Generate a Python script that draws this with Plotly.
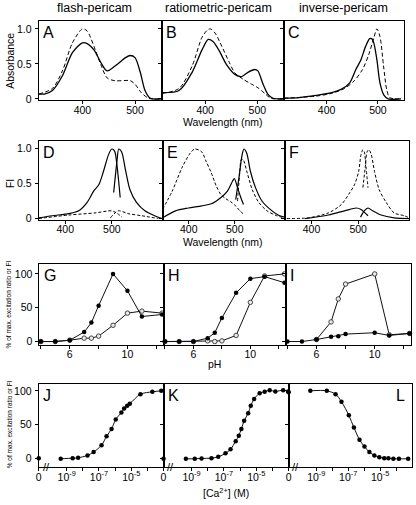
import plotly.graph_objects as go

W, H = 416, 505
FONT = "Liberation Sans, Arial, Helvetica, sans-serif"

# ---------------- Row 1: absorbance spectra (nm, absorbance) ----------------
A_solid_nm = [317, 328, 343, 362, 381, 400, 409, 422, 435, 447, 462, 482, 491, 500, 510, 519, 529, 551]
A_solid_abs = [0.07, 0.07, 0.12, 0.33, 0.66, 0.80, 0.79, 0.70, 0.52, 0.40, 0.47, 0.59, 0.62, 0.59, 0.38, 0.12, 0.01, 0.0]
A_dash_nm = [317, 343, 362, 381, 400, 409, 422, 435, 447, 462, 491, 500, 512, 526, 551]
A_dash_abs = [0.07, 0.15, 0.40, 0.80, 1.0, 0.97, 0.75, 0.49, 0.30, 0.26, 0.26, 0.21, 0.09, 0.01, 0.0]

B_solid_nm = [318, 350, 375, 394, 406, 415, 426, 441, 457, 470, 482, 495, 501, 511, 520, 530, 551]
B_solid_abs = [0.09, 0.12, 0.38, 0.70, 0.85, 0.82, 0.70, 0.49, 0.35, 0.32, 0.38, 0.42, 0.40, 0.21, 0.07, 0.01, 0.0]
B_dash_nm = [318, 350, 375, 394, 404, 410, 419, 432, 445, 457, 473, 489, 501, 514, 526, 551]
B_dash_abs = [0.08, 0.15, 0.47, 0.88, 0.98, 1.0, 0.94, 0.75, 0.54, 0.37, 0.28, 0.21, 0.16, 0.08, 0.01, 0.0]

C_solid_nm = [317, 347, 379, 410, 429, 445, 457, 467, 476, 484, 488, 492, 498, 504, 512, 520, 545]
C_solid_abs = [0.01, 0.02, 0.05, 0.09, 0.14, 0.23, 0.42, 0.56, 0.75, 0.86, 0.86, 0.80, 0.56, 0.23, 0.05, 0.0, 0.0]
C_dash_nm = [317, 379, 410, 435, 454, 470, 482, 492, 498, 504, 511, 517, 523, 545]
C_dash_abs = [0.01, 0.04, 0.08, 0.15, 0.26, 0.42, 0.63, 0.87, 1.0, 0.89, 0.47, 0.14, 0.02, 0.0]

# ---------------- Row 2: fluorescence spectra (nm, FI) ----------------
D_ex_solid_nm = [343, 372, 408, 429, 447, 461, 472, 482, 493, 500, 506, 511, 518]
D_ex_solid_fi = [0.01, 0.04, 0.07, 0.11, 0.23, 0.39, 0.48, 0.67, 0.91, 0.99, 0.96, 0.76, 0.30]
D_em_solid_nm = [504, 511, 515, 521, 530, 539, 553, 571, 592, 608]
D_em_solid_fi = [0.37, 0.81, 0.99, 0.95, 0.67, 0.41, 0.23, 0.11, 0.04, 0.0]
D_ex_dash_nm = [343, 408, 464, 500, 510, 522]
D_ex_dash_fi = [0.0, 0.05, 0.08, 0.11, 0.08, 0.02]
D_em_dash_nm = [497, 514, 535, 564, 600]
D_em_dash_fi = [0.01, 0.11, 0.07, 0.04, 0.0]

E_ex_dash_nm = [343, 364, 385, 403, 413, 428, 438, 449, 460, 470, 481, 491, 502, 511, 518]
E_ex_dash_fi = [0.13, 0.39, 0.72, 0.93, 0.99, 0.95, 0.81, 0.65, 0.46, 0.34, 0.28, 0.24, 0.18, 0.11, 0.07]
E_ex_solid_nm = [343, 371, 399, 428, 449, 470, 484, 495, 499, 506, 513, 519]
E_ex_solid_fi = [0.01, 0.11, 0.15, 0.18, 0.21, 0.30, 0.39, 0.53, 0.57, 0.44, 0.30, 0.20]
E_em_solid_nm = [502, 509, 516, 520, 526, 534, 545, 559, 577, 594, 608]
E_em_solid_fi = [0.27, 0.58, 0.91, 0.99, 0.93, 0.67, 0.44, 0.25, 0.13, 0.05, 0.02]
E_em_dash_nm = [506, 511, 514, 518, 527, 538, 552, 570, 591, 608]
E_em_dash_fi = [0.25, 0.67, 0.84, 0.84, 0.65, 0.41, 0.23, 0.11, 0.04, 0.01]

F_ex_dash_nm = [347, 393, 436, 464, 482, 492, 501, 506, 510, 513, 517, 521]
F_ex_dash_fi = [0.0, 0.01, 0.08, 0.20, 0.37, 0.48, 0.67, 0.91, 0.98, 0.95, 0.72, 0.44]
F_em_dash_nm = [510, 515, 519, 523, 528, 535, 545, 560, 577, 599, 609]
F_em_dash_fi = [0.44, 0.72, 0.95, 0.98, 0.91, 0.67, 0.41, 0.23, 0.08, 0.04, 0.01]
F_ex_solid_nm = [386, 436, 471, 496, 506, 521]
F_ex_solid_fi = [0.0, 0.05, 0.11, 0.15, 0.13, 0.04]
F_em_solid_nm = [505, 513, 521, 531, 549, 577, 609]
F_em_solid_fi = [0.02, 0.11, 0.15, 0.11, 0.05, 0.01, 0.0]

# ---------------- Row 3: pH titrations (%) ----------------
G_pH = [4, 5, 6, 7, 7.5, 8, 9, 10, 11, 12.4]
G_filled = [0, 0, 2, 14, 28, 53, 100, 75, 37, 40]
G_open = [0, 0, 2, 5, 5, 8, 24, 42, 45, 42]
H_pH = [4, 5, 6, 7, 7.5, 8, 9, 10, 11, 12.4]
H_filled = [0, 0, 0, 5, 13, 35, 72, 93, 96, 87]
H_open = [0, 0, 0, 1, 0, 1, 9, 58, 97, 100]
I_pH_filled = [4, 5, 6, 7, 7.5, 8, 10, 11, 12.4]
I_filled = [0, 0, 3, 7, 8, 11, 13, 9, 12]
I_pH_open = [6, 7, 7.5, 8, 10, 11, 12.4]
I_open = [3, 29, 63, 85, 100, 10, 12]

# ---------------- Row 4: Ca2+ titrations (log10 [Ca2+] M, %) ----------------
J_logca = [-9.37, -8.63, -8.29, -7.71, -7.33, -6.84, -6.53, -6.22, -5.96, -5.61, -5.44, -5.25, -5.09, -4.43, -3.69, -3.14]
J_pct = [0, 1, 1.5, 5, 10, 20, 33, 44, 58, 68, 74, 78, 81, 95, 98.5, 100]
J_zero_pct = 1
K_logca = [-9.35, -8.80, -8.38, -7.77, -7.35, -6.90, -6.59, -6.27, -6.08, -5.92, -5.75, -5.50, -5.34, -5.13, -4.79, -4.48, -4.17, -3.82, -3.34, -3.03]
K_pct = [0, 0, 0.5, 1, 3, 8, 14, 26, 34, 44, 56, 67, 78, 88, 96.5, 98.5, 101, 99, 101, 99]
K_zero_pct = 0
L_logca = [-9.37, -8.34, -7.79, -7.42, -6.96, -6.64, -6.29, -5.98, -5.67, -5.36, -5.05, -4.74, -4.48, -4.17, -3.82, -3.24]
L_pct = [100, 100, 95, 84, 64, 46, 28, 18, 10, 5, 2.4, 1, 1, 0, 0, 0]
L_zero_pct = 98

COL_TITLES = ["flash-pericam", "ratiometric-pericam", "inverse-pericam"]
PANEL_LETTERS = ["A", "B", "C", "D", "E", "F", "G", "H", "I", "J", "K", "L"]

# ---------------- layout geometry (pixels) ----------------
ROW_PX = [(21, 101), (142.7, 222), (266.7, 348.3), (388, 471.7)]
COL_PX = [
    [(36, 160), (160, 283), (283, 404)],
    [(36, 160.7), (160.7, 284), (284, 409)],
    [(36.7, 161.7), (161.7, 285), (285, 411)],
    [(36, 161.7), (161.7, 287.7), (287.7, 412)],
]
ZERO_POS = -10.73  # axis position of the "0" (no Ca2+) point, before the break
ROW_XRANGE = [[317, 551], [343, 609], [3.9, 12.5], [ZERO_POS, -3.0]]
ROW_YRANGE = [[-0.015, 1.115], [-0.018, 1.1], [-4.9, 114.6], [-12.1, 109.8]]

fig = go.Figure()


def names(n):
    return ("x" if n == 1 else f"x{n}"), ("y" if n == 1 else f"y{n}")


def line(n, x, y, dash=None, width=1.2, shape="spline"):
    xa, ya = names(n)
    fig.add_trace(go.Scatter(
        x=x, y=y, xaxis=xa, yaxis=ya, mode="lines", showlegend=False, hoverinfo="skip",
        line=dict(color="black", width=width, dash=dash, shape=shape, smoothing=0.8)))


def pts(n, x, y, filled=True, lines=True, shape="linear", size=4.5):
    xa, ya = names(n)
    marker = dict(size=size, color="black", line=dict(width=0)) if filled else \
        dict(size=size, color="#e8e8e8", line=dict(width=0.9, color="#333"))
    fig.add_trace(go.Scatter(
        x=x, y=y, xaxis=xa, yaxis=ya, mode="lines+markers" if lines else "markers",
        showlegend=False, hoverinfo="skip", cliponaxis=False, marker=marker,
        line=dict(color="#111", width=1, shape=shape, smoothing=0.9)))


D1 = "4px,2.5px"
D2 = "3px,2px"

# Row 1
line(1, A_dash_nm, A_dash_abs, dash=D1, width=1)
line(1, A_solid_nm, A_solid_abs, width=1.3)
line(2, B_dash_nm, B_dash_abs, dash=D1, width=1)
line(2, B_solid_nm, B_solid_abs, width=1.3)
line(3, C_dash_nm, C_dash_abs, dash=D1, width=1)
line(3, C_solid_nm, C_solid_abs, width=1.3)
# Row 2
line(4, D_ex_dash_nm, D_ex_dash_fi, dash=D2, width=1)
line(4, D_em_dash_nm, D_em_dash_fi, dash=D2, width=1)
line(4, D_ex_solid_nm, D_ex_solid_fi, width=1.2)
line(4, D_em_solid_nm, D_em_solid_fi, width=1.2)
line(5, E_ex_dash_nm, E_ex_dash_fi, dash=D2, width=1)
line(5, E_em_dash_nm, E_em_dash_fi, dash=D2, width=1)
line(5, E_ex_solid_nm, E_ex_solid_fi, width=1.2)
line(5, E_em_solid_nm, E_em_solid_fi, width=1.2)
line(6, F_ex_dash_nm, F_ex_dash_fi, dash=D2, width=1)
line(6, F_em_dash_nm, F_em_dash_fi, dash=D2, width=1)
line(6, F_ex_solid_nm, F_ex_solid_fi, width=1.2)
line(6, F_em_solid_nm, F_em_solid_fi, width=1.2)
# Row 3
pts(7, G_pH, G_open, filled=False)
pts(7, G_pH, G_filled)
pts(8, H_pH, H_open, filled=False)
pts(8, H_pH, H_filled)
pts(9, I_pH_open, I_open, filled=False)
pts(9, I_pH_filled, I_filled)
# Row 4
pts(10, J_logca, J_pct, shape="spline")
pts(10, [ZERO_POS], [J_zero_pct], lines=False)
pts(11, K_logca, K_pct, shape="spline")
pts(11, [ZERO_POS], [K_zero_pct], lines=False)
pts(12, L_logca, L_pct, shape="spline")
pts(12, [ZERO_POS], [L_zero_pct], lines=False)

tickfont = dict(size=10.5, family=FONT, color="black")
layout = dict(width=W, height=H, margin=dict(l=0, r=0, t=0, b=0),
              paper_bgcolor="white", plot_bgcolor="white", showlegend=False)

X_TICKS = [
    ([400, 500], ["400", "500"], []),
    ([400, 500], ["400", "500"], []),
    ([6, 10], ["6", "10"], [4, 8, 12]),
    ([ZERO_POS, -9, -7, -5], ["0", "10<sup>-9</sup>", "10<sup>-7</sup>", "10<sup>-5</sup>"], [-8, -6, -4]),
]
Y_TICKS = [
    ([0, 0.5, 1.0], ["0", "0.5", "1.0"]),
    ([0, 0.5, 1.0], ["0", "0.5", "1.0"]),
    ([0, 50, 100], ["0", "50", "100"]),
    ([0, 50, 100], ["0", "50", "100"]),
]

annotations = []
for r in range(4):
    y0, y1 = ROW_PX[r]
    for c in range(3):
        n = r * 3 + c + 1
        x0, x1 = COL_PX[r][c]
        xn, yn = names(n)
        common = dict(showline=True, mirror=True, linecolor="black", linewidth=1,
                      ticks="outside", ticklen=3, tickwidth=1, tickcolor="black",
                      showgrid=False, zeroline=False, tickfont=tickfont, tickmode="array",
                      fixedrange=True)
        xa = dict(domain=[x0 / W, x1 / W], range=ROW_XRANGE[r], anchor=yn,
                  tickvals=X_TICKS[r][0], ticktext=X_TICKS[r][1], ticklabelstandoff=-3, **common)
        if X_TICKS[r][2]:
            xa["minor"] = dict(tickmode="array", tickvals=X_TICKS[r][2], ticks="outside",
                               ticklen=3, tickwidth=1, tickcolor="black", showgrid=False)
        layout["xaxis" if n == 1 else f"xaxis{n}"] = xa
        layout["yaxis" if n == 1 else f"yaxis{n}"] = dict(
            domain=[1 - y1 / H, 1 - y0 / H], range=ROW_YRANGE[r], anchor=xn,
            tickvals=Y_TICKS[r][0], ticktext=Y_TICKS[r][1], showticklabels=(c == 0),
            ticklabelstandoff=1, **common)
        # panel letter
        letter = PANEL_LETTERS[n - 1]
        right = letter == "L"
        annotations.append(dict(
            text=letter, xref=f"{xn} domain", yref=f"{yn} domain",
            x=0.96 if right else 0.02, y=0.985, xanchor="right" if right else "left",
            yanchor="top", showarrow=False, font=dict(size=16, family=FONT, color="black")))
        # axis break marks in row 4
        if r == 3:
            annotations.append(dict(
                text="//", xref=xn, yref=f"{yn} domain", x=ZERO_POS + 0.45, y=0,
                xanchor="center", yanchor="middle", showarrow=False,
                font=dict(size=11, family=FONT, color="black")))


def paper(px, py):
    return px / W, 1 - py / H


def text(s, px, py, size=10.5, angle=0):
    x, y = paper(px, py)
    annotations.append(dict(text=s, xref="paper", yref="paper", x=x, y=y,
                            xanchor="center", yanchor="middle", showarrow=False,
                            textangle=angle, font=dict(size=size, family=FONT, color="black")))


text(COL_TITLES[0], 92.5, 8, size=12.5)
text(COL_TITLES[1], 217, 8, size=12.5)
text(COL_TITLES[2], 343, 8, size=12.5)
text("Absorbance", 7.5, 61, angle=-90)
text("Wavelength (nm)", 222, 123)
text("FI", 7, 185, angle=-90)
text("Wavelength (nm)", 222, 244)
text("pH", 213, 368)
text("% of max. excitation ratio or FI", 6.5, 307, size=6.5, angle=-90)
text("% of max. excitation ratio or FI", 6.5, 428, size=6.5, angle=-90)
text("[Ca<sup>2+</sup>] (M)", 225, 497)

layout["annotations"] = annotations
fig.update_layout(**layout)
fig.write_html("out.html", config={"displayModeBar": False},
               post_script="document.body.style.margin='0px';document.body.style.overflow='hidden';")
